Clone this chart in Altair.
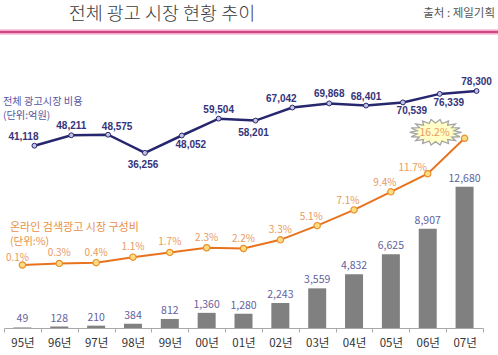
import math
import altair as alt
import pandas as pd

# ---- data ----
years = ["95년", "96년", "97년", "98년", "99년", "00년", "01년",
         "02년", "03년", "04년", "05년", "06년", "07년"]
search_ad = [49, 128, 210, 384, 812, 1360, 1280, 2243, 3559, 4832, 6625, 8907, 12680]
total_ad = [41118, 48211, 48575, 36256, 48052, 59504, 58201, 67042, 69868,
            68401, 70539, 76339, 78300]
online_share = [0.1, 0.3, 0.4, 1.1, 1.7, 2.3, 2.2, 3.3, 5.1, 7.1, 9.4, 11.7, 16.2]

# label placement groups (not data values)
total_label_place = ["above-left", "above", "above-right", "below", "below-right",
                     "above", "below", "above-left", "above", "above",
                     "below-right", "below-right", "above"]
share_label_place = ["low-left"] + ["above"] * 7 + ["above-left", "above-left",
                                                    "above-left", "left", "burst"]

df = pd.DataFrame({
    "year": years,
    "ads": search_ad,
    "total": total_ad,
    "share": online_share,
    "tplace": total_label_place,
    "splace": share_label_place,
})

KR = "Noto Sans CJK KR"
NAVY = "#27276f"
ORANGE = "#e8731e"
ORANGE_TXT = "#e89a5e"
BAR_TXT = "#62629e"

x_enc = alt.X(
    "year:N", sort=years,
    scale=alt.Scale(type="band", paddingInner=0, paddingOuter=0),
    axis=alt.Axis(title=None, labelAngle=0, labelFont=KR, labelFontSize=11.5,
                  labelColor="#333333", labelPadding=5, domainColor="#a8a8a8",
                  tickColor="#a8a8a8", tickSize=4, tickBand="extent", grid=False),
)

base = alt.Chart(df)

# ---- bars ----
y_bar = alt.Y("ads:Q", scale=alt.Scale(domain=[0, 25846], nice=False, zero=False), axis=None)
bars = base.mark_bar(size=18, color="#808080").encode(x=x_enc, y=y_bar)
bar_text = base.mark_text(baseline="bottom", dy=-3, font=KR, fontSize=10.5,
                          color=BAR_TXT).encode(
    x=x_enc, y=y_bar, text=alt.Text("ads:Q", format=","))
bar_group = alt.layer(bars, bar_text)

# ---- online share (orange) ----
y_sh = alt.Y("share:Q", scale=alt.Scale(domain=[-7.90, 28.69], nice=False, zero=False), axis=None)
sh_base = base.transform_calculate(lbl="format(datum.share, '.1f') + '%'")
sh_line = sh_base.mark_line(color=ORANGE, strokeWidth=2).encode(x=x_enc, y=y_sh)

n = 18
pts = []
for i in range(2 * n):
    a = math.pi * i / n
    r = 1.0 if i % 2 == 0 else 0.72
    pts.append((r * math.cos(a), 0.5 * r * math.sin(a)))
burst_path = "M" + " L".join(f"{px:.3f},{py:.3f}" for px, py in pts) + " Z"

burst = sh_base.transform_filter(alt.datum.splace == "burst").mark_point(
    shape=burst_path, size=2704, filled=True, fill="#ffffc6", stroke="#a6a6a6",
    strokeWidth=1.3, opacity=1, xOffset=-29, yOffset=-6).encode(x=x_enc, y=y_sh)
burst_text = sh_base.transform_filter(alt.datum.splace == "burst").mark_text(
    dx=-30, dy=-5, font=KR, fontSize=10.5, color=ORANGE_TXT).encode(
    x=x_enc, y=y_sh, text="lbl:N")

sh_pts = sh_base.mark_point(filled=True, fill="#fddc82", stroke="#e8902e",
                            strokeWidth=1.2, size=40, opacity=1).encode(x=x_enc, y=y_sh)

sh_offsets = {"low-left": (-5, -7), "above": (0, -10), "above-left": (-6, -9),
              "left": (-15, -6)}
sh_labels = [
    sh_base.transform_filter(alt.datum.splace == k).mark_text(
        dx=dx, dy=dy, font=KR, fontSize=10, color=ORANGE_TXT).encode(
        x=x_enc, y=y_sh, text="lbl:N")
    for k, (dx, dy) in sh_offsets.items()
]
share_group = alt.layer(sh_line, burst, burst_text, sh_pts, *sh_labels)

# ---- total ad market (navy) ----
y_tot = alt.Y("total:Q", scale=alt.Scale(domain=[-82802, 112970], nice=False, zero=False), axis=None)
XO = 12
t_line = base.mark_line(color=NAVY, strokeWidth=2.5, xOffset=XO).encode(x=x_enc, y=y_tot)
t_pts = base.mark_point(filled=True, fill="#c4c4e2", stroke=NAVY, strokeWidth=1,
                        size=24, opacity=1, xOffset=XO).encode(x=x_enc, y=y_tot)
t_offsets = {"above": (0, -9), "above-left": (-11, -9), "above-right": (9, -8),
             "below": (-2, 12), "below-right": (9, 9)}
t_labels = [
    base.transform_filter(alt.datum.tplace == k).mark_text(
        dx=XO + dx, dy=dy, font="Liberation Sans", fontWeight="bold", fontSize=10,
        color="#34347a").encode(x=x_enc, y=y_tot, text=alt.Text("total:Q", format=","))
    for k, (dx, dy) in t_offsets.items()
]
total_group = alt.layer(t_line, t_pts, *t_labels)

# ---- annotations ----
ann = alt.Chart(pd.DataFrame({"k": [0]}))
pink_wide = ann.mark_rule(color="#f2a6c6", strokeWidth=5).encode(
    x=alt.value(-4), x2=alt.value(494), y=alt.value(-8))
pink_core = ann.mark_rule(color="#cf4884", strokeWidth=2).encode(
    x=alt.value(-4), x2=alt.value(494), y=alt.value(-8))
title = ann.mark_text(text="전체 광고 시장 현황 추이", font=KR, fontSize=18.5,
                      fontWeight=300,
                      color="#3c3c3c", align="center", baseline="middle").encode(
    x=alt.value(158), y=alt.value(-26))
source = ann.mark_text(text="출처 : 제일기획", font=KR, fontSize=11.5,
                       color="#555555", align="right", baseline="middle").encode(
    x=alt.value(491), y=alt.value(-26))
t_name1 = ann.mark_text(text="전체 광고시장 비용", font=KR, fontSize=10.2,
                        color="#5656a2", align="left", baseline="middle").encode(
    x=alt.value(-1), y=alt.value(61.5))
t_name2 = ann.mark_text(text="(단위:억원)", font=KR, fontSize=10.2,
                        color="#5656a2", align="left", baseline="middle").encode(
    x=alt.value(-1), y=alt.value(75.5))
s_name1 = ann.mark_text(text="온라인 검색광고 시장 구성비", font=KR, fontSize=11,
                        color="#e8904a", align="left", baseline="middle").encode(
    x=alt.value(6), y=alt.value(188))
s_name2 = ann.mark_text(text="(단위:%)", font=KR, fontSize=10.5,
                        color="#e8904a", align="left", baseline="middle").encode(
    x=alt.value(6), y=alt.value(202))
ann_group = alt.layer(pink_wide, pink_core, title, source, t_name1, t_name2, s_name1, s_name2)

chart = alt.layer(bar_group, share_group, total_group, ann_group).resolve_scale(
    y="independent"
).properties(
    width=479, height=288,
    autosize=alt.AutoSizeParams(type="none"),
    padding={"left": 4, "top": 40, "right": 15, "bottom": 27},
    background="white",
).configure_view(stroke=None)

chart.save("out.html", embed_options={"renderer": "svg", "actions": False})
